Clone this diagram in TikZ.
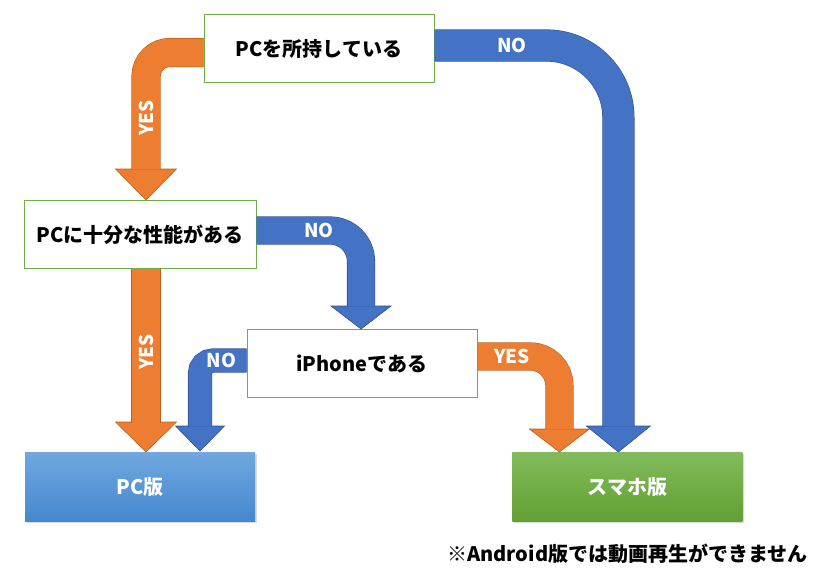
\documentclass[tikz,border=0pt]{standalone}
\usepackage{fontspec}
\setmainfont{Noto Sans CJK JP}
\usepackage{tikz}
\usepackage{xcolor}
\usetikzlibrary{positioning}
\usetikzlibrary{shadows}
\definecolor{yesorange}{HTML}{ED7D31}
\definecolor{yesdark}{HTML}{B8601F}
\definecolor{noblue}{HTML}{4472C4}
\definecolor{nodark}{HTML}{2F528F}
\definecolor{boxgreen}{HTML}{70AD47}
\definecolor{pctop}{HTML}{70A8DF}
\definecolor{pcbottom}{HTML}{4587CE}
\definecolor{sptop}{HTML}{83BB5C}
\definecolor{spbottom}{HTML}{61A032}

\begin{document}
\begin{tikzpicture}
	[x=1pt, y=-1pt,
	 main/.style = {draw=boxgreen, line width=1pt, fill=white, minimum width=230pt, minimum height=68pt, font=\bfseries\fontsize{20}{24}\selectfont},
	 result/.style = {minimum width=230pt, minimum height=69pt, text=white, font=\bfseries\fontsize{20}{24}\selectfont, drop shadow={shadow xshift=1.5pt, shadow yshift=-2pt, opacity=.3}},
	 yesflow/.style = {draw=yesorange, line width=#1pt, preaction={draw=yesdark, line width=#1pt+1.2pt}},
	 noflow/.style = {draw=noblue, line width=#1pt, preaction={draw=nodark, line width=#1pt+1.2pt}},
	 yeshead/.style = {fill=yesorange, draw=yesdark, line width=.6pt},
	 nohead/.style = {fill=noblue, draw=nodark, line width=.6pt},
	 answer/.style = {text=white, font=\bfseries\fontsize{19}{22}\selectfont}]
	\useasboundingbox (0,0) rectangle (823,576);
	\node[main] (1) at (319,48.5) {PCを所持している};
	\node[main, minimum width=232pt] (2) [below=117pt of 1, xshift=-179pt] {PCに十分な性能がある};
	\node[main] (3) [below=60pt of 2, xshift=222pt] {iPhoneである};
	\node[result, top color=pctop, bottom color=pcbottom] (4) [below=183pt of 2] {PC版};
	\node[result, top color=sptop, bottom color=spbottom] (5) [right=257pt of 4] {スマホ版};
	\node[font=\bfseries\fontsize{20}{24}\selectfont] (6) [below=19pt of 5] {※Android版では動画再生ができません};
	\coordinate (h1) at ([xshift=-9pt, yshift=26pt]5.north);
	\coordinate (h2) at ([xshift=6pt, yshift=31pt]2.north);
	\coordinate (h3) at ([xshift=-1pt, yshift=23pt]3.north);
	\coordinate (h4) at ([xshift=6pt, yshift=30pt]4.north);
	\coordinate (h5) at ([xshift=60pt, yshift=26pt]4.north);
	\coordinate (h6) at ([xshift=-68pt, yshift=23pt]5.north);
	\filldraw[yeshead] (h2) ++(-30.5,0) -- ++(61,0) -- ++(-30.5,31) -- cycle;
	\draw[yesflow=28, rounded corners=24pt] ([yshift=-4pt]1.west) -| node[pos=.78, rotate=90, answer] {YES} ([yshift=-.6pt]h2);
	\filldraw[yeshead] (h4) ++(-30.5,0) -- ++(61,0) -- ++(-30.5,30) -- cycle;
	\draw[yesflow=28] ([xshift=6pt]2.south) -- node[pos=.54, rotate=90, answer] {YES} ([yshift=-.6pt]h4);
	\filldraw[yeshead] (h6) ++(-30,0) -- ++(60,0) -- ++(-30,23) -- cycle;
	\draw[yesflow=27, rounded corners=29pt] ([yshift=7pt]3.east) -| node[pos=.21, answer] {YES} ([yshift=-.6pt]h6);
	\filldraw[nohead] (h1) ++(-32,0) -- ++(64,0) -- ++(-32,26) -- cycle;
	\draw[noflow=31, rounded corners=72pt] ([yshift=3pt]1.east) -| node[pos=.21, answer] {NO} ([yshift=-.6pt]h1);
	\filldraw[nohead] (h3) ++(-30,0) -- ++(60,0) -- ++(-30,23) -- cycle;
	\draw[noflow=27, rounded corners=31pt] ([yshift=4pt]2.east) -| node[pos=.3, answer] {NO} ([yshift=-.6pt]h3);
	\filldraw[nohead] (h5) ++(-24.5,0) -- ++(49,0) -- ++(-24.5,25) -- cycle;
	\draw[noflow=23, rounded corners=13pt] ([yshift=3pt]3.west) -| node[pos=.27, answer] {NO} ([yshift=-.6pt]h5);
\end{tikzpicture}
\end{document}
